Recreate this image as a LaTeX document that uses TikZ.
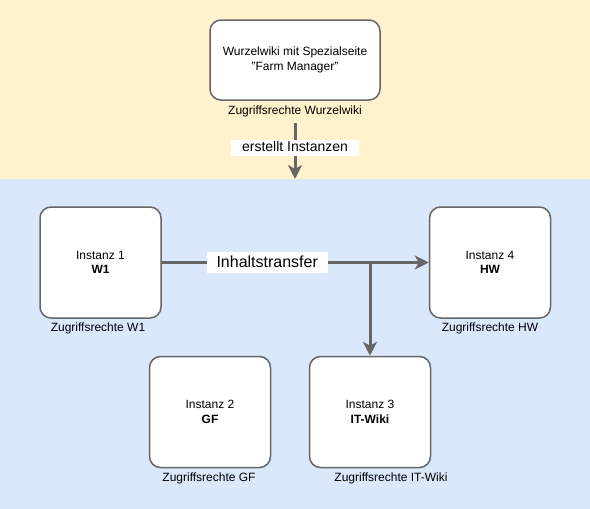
\documentclass[tikz,border=0pt]{standalone}
\usepackage{fontspec}
\setmainfont{Liberation Sans}
\usetikzlibrary{arrows.meta}
\definecolor{bandyellow}{HTML}{FFF2CC}
\definecolor{bandblue}{HTML}{DAE8FC}
\definecolor{strokegray}{HTML}{666666}
\tikzset{
  wikibox/.style={draw=strokegray,line width=1.5pt,fill=white,rounded corners=11pt,
    align=center,font=\fontsize{12}{14.4}\selectfont},
  rights/.style={inner sep=0pt,font=\fontsize{12}{14.4}\selectfont},
  flow/.style={draw=strokegray,line width=3pt,-{Stealth[length=14pt,width=14pt,inset=4pt]}},
  flowlabel/.style={fill=white,inner xsep=10pt,inner ysep=3pt,text height=12pt,text depth=3pt}
}

\begin{document}
\begin{tikzpicture}[x=1pt,y=-1pt]
% bands
\fill[bandyellow] (0,0) rectangle (590,179);
\fill[bandblue] (0,179) rectangle (590,509);
% wurzelwiki
\draw (295,60) node[wikibox,minimum width=170,minimum height=80](wurzel) {Wurzelwiki mit Spezialseite\\"Farm Manager"};
\draw (295,111) node[rights](rwurzel) {Zugriffsrechte Wurzelwiki};
\coordinate (instanzen) at (295,179);
% instances
\draw (100.5,262.5) node[wikibox,minimum width=121,minimum height=111](w1) {Instanz 1\\\textbf{W1}};
\draw (490,262.5) node[wikibox,minimum width=121,minimum height=111](hw) {Instanz 4\\\textbf{HW}};
\draw (210,412) node[wikibox,minimum width=121,minimum height=111](gf) {Instanz 2\\\textbf{GF}};
\draw (370,412) node[wikibox,minimum width=121,minimum height=111](it) {Instanz 3\\\textbf{IT-Wiki}};
\draw (98,328) node[rights](rw1) {Zugriffsrechte W1};
\draw (490,328) node[rights](rhw) {Zugriffsrechte HW};
\draw (209,478) node[rights](rgf) {Zugriffsrechte GF};
\draw (391,478) node[rights](rit) {Zugriffsrechte IT-Wiki};
% arrows
\draw[flow,shorten <=6pt] (rwurzel) -- (instanzen)
  node[flowlabel,pos=0.5,font=\fontsize{14}{16}\selectfont,text height=10.5pt,text depth=2.5pt,inner ysep=1.5pt,inner xsep=11pt](erstellt) {erstellt Instanzen};
\draw[flow] (w1) -- (hw)
  node[flowlabel,pos=0.395,font=\fontsize{16}{18}\selectfont](transfer) {Inhaltstransfer};
\coordinate (split) at (370,262.5);
\draw[flow] (split) -- (it);
\end{tikzpicture}
\end{document}
